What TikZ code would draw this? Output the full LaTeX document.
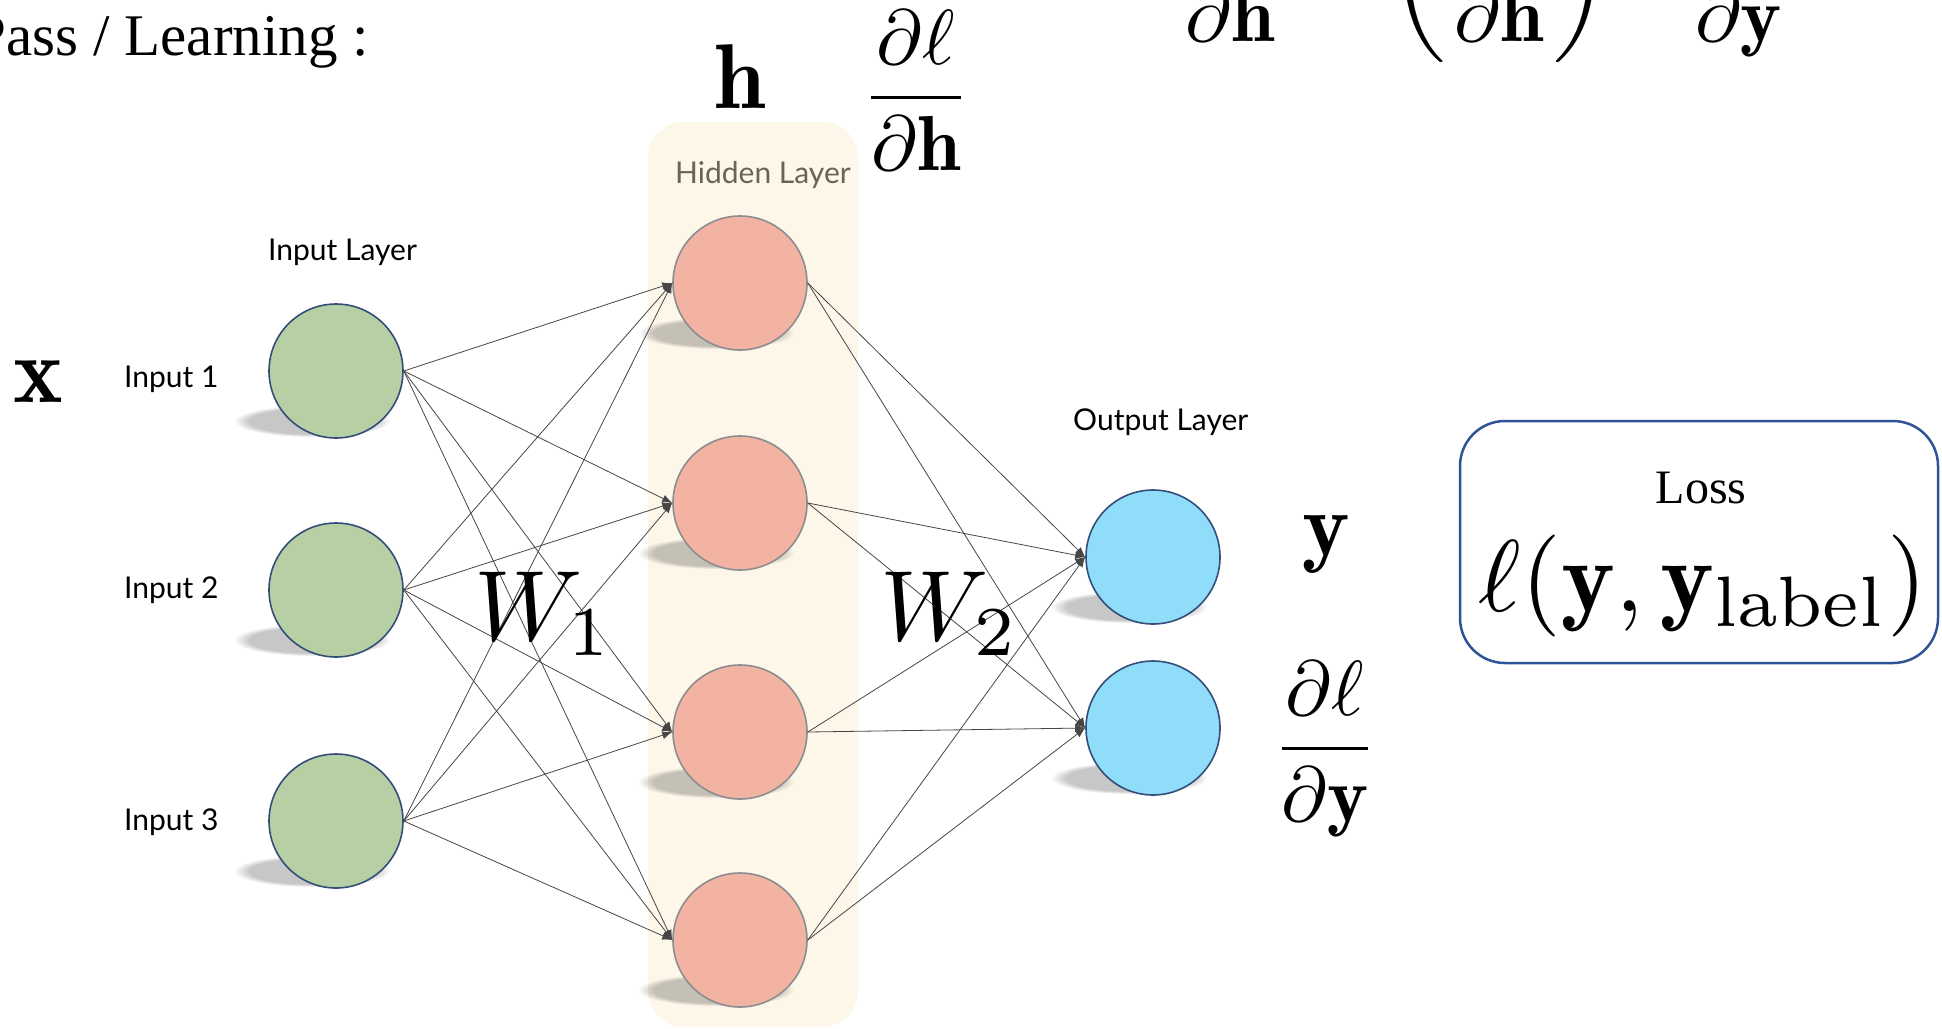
\documentclass[tikz,border=0pt]{standalone}
\usepackage{amsmath,amssymb}
\usepackage{fontspec}
\setsansfont{Lato}
\newfontfamily\timesfont{Liberation Serif}
\usetikzlibrary{arrows.meta,fadings}

\definecolor{ingreen}{RGB}{183,207,165}
\definecolor{hidsalmon}{RGB}{242,179,162}
\definecolor{outblue}{RGB}{143,221,248}
\definecolor{rimblue}{RGB}{52,78,122}
\definecolor{rimgray}{RGB}{140,140,145}
\definecolor{panelcream}{RGB}{253,247,233}
\definecolor{lossblue}{RGB}{47,84,150}
\definecolor{laygray}{RGB}{107,100,86}
\definecolor{wiregray}{RGB}{70,70,70}

% maths at a given size (factor of 10pt)
\newcommand{\sized}[2]{\scalebox{#1}{$#2$}}

\tikzset{
  neuron/.style={circle,minimum size=134pt,inner sep=0pt,line width=1.6pt},
  innode/.style={neuron,fill=ingreen,draw=rimblue},
  hidnode/.style={neuron,fill=hidsalmon,draw=rimgray},
  outnode/.style={neuron,fill=outblue,draw=rimblue},
  wire/.style={draw=wiregray,line width=0.8pt,-{Latex[length=10pt,width=8pt]}},
  laytext/.style={font=\sffamily\fontsize{30}{36}\selectfont,inner sep=0pt,anchor=base west},
  mathtext/.style={inner sep=0pt},
  nshadow/.style={fill=black,opacity=0.22,path fading=circle with fuzzy edge 20 percent}
}

\begin{document}
\begin{tikzpicture}[x=1pt,y=-1pt]
        \useasboundingbox (0,0) rectangle (1942,1028);
        % hidden layer panel
        \fill[panelcream,rounded corners=36pt] (648,122) rectangle (858,1027);

        % shadows under the neurons
        \foreach \x/\y in {336/371,336/590,336/821,740/283,740/503,740/732,740/940,1153/557,1153/728}
          \fill[nshadow] (\x-24,\y+50) ellipse [x radius=78, y radius=16];

        % neurons
        \node[innode] (in1) at (336,371) {};
        \node[innode] (in2) at (336,590) {};
        \node[innode] (in3) at (336,821) {};
        \node[hidnode] (hid1) at (740,283) {};
        \node[hidnode] (hid2) at (740,503) {};
        \node[hidnode] (hid3) at (740,732) {};
        \node[hidnode] (hid4) at (740,940) {};
        \node[outnode] (out1) at (1153,557) {};
        \node[outnode] (out2) at (1153,728) {};

        % weights
        \foreach \i in {1,2,3}
          \foreach \j in {1,2,3,4}
            \draw[wire] (in\i.east) -- (hid\j.west);
        \foreach \j in {1,2,3,4}
          \foreach \k in {1,2}
            \draw[wire] (hid\j.east) -- (out\k.west);

        % layer names
        \node[laytext] (inlay) at (268,260) {Input Layer};
        \node[laytext,text=laygray] (hidlay) at (675,183) {Hidden Layer};
        \node[laytext] (outlay) at (1073,430) {Output Layer};
        \node[laytext] (inlab1) at (124,387) {Input 1};
        \node[laytext] (inlab2) at (124,598) {Input 2};
        \node[laytext] (inlab3) at (124,830) {Input 3};

        % maths
        \node[font=\timesfont\fontsize{59}{70}\selectfont,inner sep=0pt,anchor=base east] (title) at (369,55) {Pass / Learning :};
        \node[mathtext,anchor=base west] (chain) at (1176,-12) {\sized{7.8}{\dfrac{\partial\ell}{\partial\mathbf{h}}=\left(\dfrac{\partial\mathbf{y}}{\partial\mathbf{h}}\right)^{T}\mkern3mu\dfrac{\partial\ell}{\partial\mathbf{y}}}};
        \node[mathtext,anchor=base west] (xvec) at (13,402) {\sized{9.4}{\mathbf{x}}};
        \node[mathtext,anchor=base] (hvec) at (740,108) {\sized{9.2}{\mathbf{h}}};
        \node[mathtext,anchor=base] (dldh) at (916,117) {\sized{7.8}{\dfrac{\partial\ell}{\partial\mathbf{h}}}};
        \node[mathtext,anchor=base] (yvec) at (1326,555) {\sized{9}{\mathbf{y}}};
        \node[mathtext,anchor=base] (dldy) at (1325,768) {\sized{7.8}{\dfrac{\partial\ell}{\partial\mathbf{y}}}};
        \node[mathtext,anchor=base west] (wone) at (474,640) {\sized{10}{W_1}};
        \node[mathtext,anchor=base west] (wtwo) at (880,640) {\sized{10}{W_2}};

        % loss
        \node[draw=lossblue,line width=2.5pt,rounded corners=45pt,minimum width=478pt,minimum height=242pt] (lossbox) at (1699,542) {};
        \node[font=\timesfont\fontsize{48}{58}\selectfont,inner sep=0pt,anchor=base] (losstxt) at (1701,503) {Loss};
        \node[mathtext,anchor=base] (lossfn) at (1703,611) {\sized{10.2}{\ell(\mathbf{y},\mathbf{y}_{\mathrm{label}})}};
\end{tikzpicture}
\end{document}
